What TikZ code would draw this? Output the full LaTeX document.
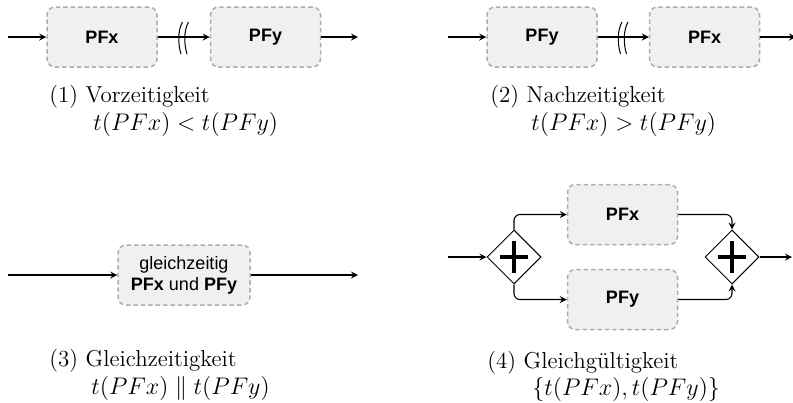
\documentclass[tikz,border=0pt]{standalone}
\usepackage{amsmath,amssymb}
\usepackage{fontspec}
\newfontfamily\boxfont{Liberation Sans}
\usepackage{tikz}
\usetikzlibrary{arrows,positioning,shapes.geometric}

\begin{document}
\begin{tikzpicture}[x=0.5pt, y=-0.5pt,
  pfbox/.style={draw=gray!65, fill=gray!12, dashed, dash pattern=on 2.2pt off 1.5pt,
    rounded corners=4pt, line width=0.75pt, minimum width=55pt, minimum height=30pt,
    inner sep=0pt, align=center, font=\boxfont\fontsize{9}{10.5}\selectfont\bfseries},
  wide/.style={pfbox, minimum width=66pt, font=\boxfont\fontsize{9}{10.5}\selectfont},
  gate/.style={draw, diamond, aspect=1, minimum size=27pt, inner sep=0pt, line width=0.5pt,
    path picture={\draw[line width=1.7pt]
      ([xshift=-7pt]path picture bounding box.center) -- ([xshift=7pt]path picture bounding box.center)
      ([yshift=-8pt]path picture bounding box.center) -- ([yshift=8pt]path picture bounding box.center);}},
  flow/.style={->, >=stealth, line width=0.55pt},
  brk/.style={line width=0.5pt},
  captext/.style={anchor=base west, inner sep=0pt, font=\fontsize{11.5}{14}\selectfont}
]
\useasboundingbox (0,0) rectangle (793,402);

% (1) Vorzeitigkeit
\coordinate (in1) at (8,37);
\coordinate (out1) at (358,37);
\node[pfbox] (pfx1) at (102,37) {PFx};
\node[pfbox] (pfy1) at (265.5,37) {PFy};
\draw[flow] (in1) -- (pfx1.west);
\draw[flow] (pfx1.east) -- (pfy1.west);
\draw[flow] (pfy1.east) -- (out1);
\draw[brk] (182.5,22) .. controls (177.5,31) and (178,44) .. (181,54);
\draw[brk] (188.5,22) .. controls (183.5,31) and (184,44) .. (187,54);
\node[captext] (cap1) at (49,102) {(1) Vorzeitigkeit};
\node[captext] (rel1) at (93,130) {$t(PFx) < t(PFy)$};

% (2) Nachzeitigkeit
\coordinate (in2) at (448,37);
\coordinate (out2) at (796,37);
\node[pfbox] (pfy2) at (542,37) {PFy};
\node[pfbox] (pfx2) at (704.5,37) {PFx};
\draw[flow] (in2) -- (pfy2.west);
\draw[flow] (pfy2.east) -- (pfx2.west);
\draw[flow] (pfx2.east) -- (out2);
\draw[brk] (622,22) .. controls (617,31) and (617.5,44) .. (620.5,54);
\draw[brk] (628,22) .. controls (623,31) and (623.5,44) .. (626.5,54);
\node[captext] (cap2) at (490,102) {(2) Nachzeitigkeit};
\node[captext] (rel2) at (531,130) {$t(PFx) > t(PFy)$};

% (3) Gleichzeitigkeit
\coordinate (in3) at (8,275);
\coordinate (out3) at (358,275);
\node[wide] (both3) at (184,275) {gleichzeitig\\\textbf{PFx} und \textbf{PFy}};
\draw[flow] (in3) -- (both3.west);
\draw[flow] (both3.east) -- (out3);
\node[captext] (cap3) at (49,366) {(3) Gleichzeitigkeit};
\node[captext] (rel3) at (91,394) {$t(PFx) \parallel t(PFy)$};

% (4) Gleichgueltigkeit
\coordinate (in4) at (448,257);
\coordinate (out4) at (792,257);
\node[gate] (split4) at (514,257) {};
\node[gate] (join4) at (732,257) {};
\node[pfbox] (pfx4) at (622.5,214.5) {PFx};
\node[pfbox] (pfy4) at (622.5,299.5) {PFy};
\draw[flow] (in4) -- (split4.west);
\draw[flow, rounded corners=3pt] (split4.north) |- (pfx4.west);
\draw[flow, rounded corners=3pt] (split4.south) |- (pfy4.west);
\draw[flow, rounded corners=3pt] (pfx4.east) -| (join4.north);
\draw[flow, rounded corners=3pt] (pfy4.east) -| (join4.south);
\draw[flow] (join4.east) -- (out4);
\node[captext] (cap4) at (487,368) {(4) Gleichgültigkeit};
\node[captext] (rel4) at (532,395) {$\{t(PFx), t(PFy)\}$};
\end{tikzpicture}
\end{document}
